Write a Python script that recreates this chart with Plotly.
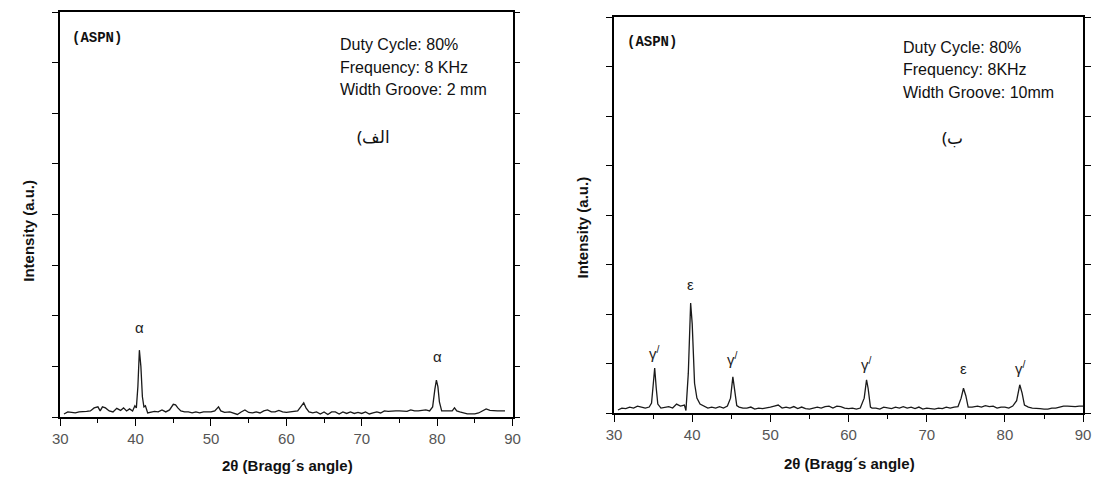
import plotly.graph_objects as go

# ---------------- data ----------------
# Left panel (a): width groove 2 mm
x_a = [30.5, 31, 31.5, 32, 32.5, 33, 33.5, 34, 34.5, 35, 35.3, 35.6, 36, 36.5, 37, 37.5, 38, 38.4, 38.8,
       39.2, 39.6, 39.9, 40.1, 40.3, 40.5, 40.7, 40.9, 41.1, 41.3, 41.6, 42, 42.5, 43, 43.5, 44, 44.5,
       45, 45.3, 45.6, 46, 46.5, 47, 47.5, 48, 48.5, 49, 49.5, 50, 50.5, 51, 51.3, 51.8, 52.5, 53, 53.5,
       54, 54.5, 55, 55.5, 56, 56.5, 57, 57.5, 58, 58.5, 59, 59.5, 60, 60.5, 61, 61.5, 62, 62.3, 62.6,
       63, 63.5, 64, 64.5, 65, 65.5, 66, 66.5, 67, 67.5, 68, 68.5, 69, 69.5, 70, 70.5, 71, 71.5, 72,
       72.5, 73, 73.5, 74, 74.5, 75, 75.5, 76, 76.5, 77, 77.5, 78, 78.5, 79, 79.4, 79.7, 79.9, 80.1,
       80.3, 80.6, 81, 81.5, 82, 82.3, 82.6, 83, 83.5, 84, 84.5, 85, 85.5, 86, 86.5, 87, 87.5, 88, 88.5, 89]
y_a = [0.06, 0.10, 0.09, 0.08, 0.10, 0.10, 0.11, 0.12, 0.18, 0.20, 0.12, 0.20, 0.18, 0.12, 0.10, 0.17, 0.13, 0.18, 0.12,
       0.16, 0.12, 0.22, 0.18, 0.60, 1.32, 1.00, 0.40, 0.20, 0.22, 0.08, 0.10, 0.11, 0.10, 0.14, 0.10, 0.14,
       0.25, 0.24, 0.18, 0.12, 0.10, 0.10, 0.08, 0.10, 0.08, 0.10, 0.10, 0.10, 0.12, 0.20, 0.12, 0.09, 0.10, 0.08, 0.05,
       0.10, 0.14, 0.09, 0.08, 0.10, 0.08, 0.12, 0.14, 0.10, 0.10, 0.13, 0.10, 0.09, 0.10, 0.10, 0.12, 0.22, 0.28, 0.18,
       0.10, 0.08, 0.10, 0.06, 0.10, 0.05, 0.10, 0.10, 0.06, 0.10, 0.07, 0.10, 0.07, 0.09, 0.07, 0.10, 0.06, 0.08, 0.10,
       0.08, 0.12, 0.11, 0.12, 0.12, 0.12, 0.12, 0.11, 0.14, 0.12, 0.12, 0.13, 0.14, 0.12, 0.20, 0.55, 0.73, 0.60,
       0.30, 0.12, 0.12, 0.12, 0.12, 0.18, 0.12, 0.10, 0.08, 0.06, 0.06, 0.06, 0.08, 0.12, 0.16, 0.13, 0.12, 0.12, 0.12, 0.12]

# Right panel (b): width groove 10 mm
x_b = [30.5, 31, 31.5, 32, 32.5, 33, 33.5, 34, 34.5, 34.8, 35, 35.2, 35.4, 35.6, 36, 36.5, 37, 37.5, 38, 38.5,
       39, 39.2, 39.5, 39.8, 40.0, 40.3, 40.6, 41, 41.5, 42, 42.5, 43, 43.5, 44, 44.5, 44.9, 45.2, 45.4, 45.7,
       46, 46.5, 47, 47.5, 48, 48.5, 49, 49.5, 50, 50.5, 51, 51.5, 52, 52.5, 53, 53.5, 54, 54.5, 55, 55.5,
       56, 56.5, 57, 57.5, 58, 58.5, 59, 59.5, 60, 60.5, 61, 61.5, 62, 62.3, 62.5, 62.8, 63, 63.5, 64, 64.5,
       65, 65.5, 66, 66.5, 67, 67.5, 68, 68.5, 69, 69.5, 70, 70.5, 71, 71.5, 72, 72.5, 73, 73.5, 74, 74.4,
       74.7, 75, 75.3, 75.8, 76.5, 77, 77.5, 78, 78.5, 79, 79.5, 80, 80.5, 81, 81.5, 81.9, 82.2, 82.5, 83,
       83.5, 84, 84.5, 85, 85.5, 86, 86.5, 87, 87.5, 88, 88.5, 89, 89.5, 90]
y_b = [0.06, 0.10, 0.09, 0.12, 0.10, 0.14, 0.12, 0.10, 0.12, 0.20, 0.55, 0.91, 0.50, 0.18, 0.10, 0.12, 0.13, 0.10, 0.18, 0.14,
       0.16, 0.05, 0.80, 2.22, 1.80, 0.60, 0.30, 0.18, 0.14, 0.10, 0.12, 0.10, 0.13, 0.10, 0.14, 0.30, 0.73, 0.45, 0.15,
       0.12, 0.10, 0.10, 0.12, 0.08, 0.10, 0.09, 0.10, 0.12, 0.14, 0.16, 0.10, 0.12, 0.10, 0.13, 0.09, 0.12, 0.09, 0.08, 0.10,
       0.12, 0.10, 0.13, 0.14, 0.10, 0.14, 0.13, 0.10, 0.09, 0.10, 0.08, 0.10, 0.30, 0.67, 0.50, 0.12, 0.10, 0.10, 0.08, 0.12,
       0.10, 0.09, 0.12, 0.10, 0.13, 0.10, 0.12, 0.09, 0.12, 0.08, 0.10, 0.09, 0.08, 0.10, 0.09, 0.12, 0.10, 0.12, 0.13, 0.30,
       0.50, 0.35, 0.12, 0.12, 0.14, 0.12, 0.15, 0.13, 0.14, 0.10, 0.12, 0.12, 0.10, 0.14, 0.25, 0.57, 0.40, 0.16, 0.12,
       0.10, 0.10, 0.09, 0.08, 0.08, 0.10, 0.10, 0.12, 0.14, 0.14, 0.13, 0.13, 0.14, 0.14]

# Peak labels
peak_lbl_a = ["α", "α"]
peak_x_a = [40.5, 80.0]
peak_y_a = [1.76, 1.19]

peak_lbl_b = ["γ<sup>/</sup>", "ε", "γ<sup>/</sup>", "γ<sup>/</sup>", "ε", "γ<sup>/</sup>"]
peak_x_b = [35.2, 39.8, 45.2, 62.3, 74.7, 82.0]
peak_y_b = [1.23, 2.59, 1.11, 1.00, 0.89, 0.91]

x_ticks = [30, 40, 50, 60, 70, 80, 90]
info_a = ["Duty Cycle: 80%", "Frequency: 8 KHz", "Width Groove: 2 mm"]
info_b = ["Duty Cycle: 80%", "Frequency: 8KHz", "Width Groove: 10mm"]
panel_a = "(الف"
panel_b = "(ب"
x_title = "2θ (Bragg´s angle)"
y_title = "Intensity (a.u.)"

# ---------------- layout helpers ----------------
W, H = 1097, 477
def px(x):
    return x / W
def py(y):
    return 1 - y / H

LINE = "#1a1a1a"
TICKFONT = dict(family="Liberation Sans, Arial, sans-serif", size=15, color="#555555")

fig = go.Figure()
fig.add_trace(go.Scatter(x=x_a, y=y_a, mode="lines", line=dict(color=LINE, width=1.3),
                         xaxis="x", yaxis="y", showlegend=False, hoverinfo="skip"))
fig.add_trace(go.Scatter(x=x_b, y=y_b, mode="lines", line=dict(color=LINE, width=1.3),
                         xaxis="x2", yaxis="y2", showlegend=False, hoverinfo="skip"))

def xaxis(domain, anchor):
    return dict(domain=domain, anchor=anchor, range=[30, 90], tickvals=x_ticks,
                ticks="outside", ticklen=7, tickwidth=1.3, tickcolor="black",
                minor=dict(dtick=5, tick0=30, ticks="outside", ticklen=4, tickcolor="black", tickwidth=1.2),
                showline=True, linecolor="black", linewidth=1.5, mirror=True,
                showgrid=False, zeroline=False, tickfont=TICKFONT, fixedrange=True)

def xaxis_top(domain, anchor, over):
    return dict(domain=domain, anchor=anchor, overlaying=over, side="top", range=[30, 90],
                tickvals=x_ticks, ticks="inside", ticklen=6, tickwidth=1.3, tickcolor="black",
                minor=dict(dtick=5, tick0=30, ticks="inside", ticklen=4, tickcolor="black", tickwidth=1.2),
                showticklabels=False, showline=False, showgrid=False, zeroline=False, fixedrange=True)

def yaxis(domain, anchor):
    return dict(domain=domain, anchor=anchor, range=[0, 8], dtick=1, tick0=0,
                ticks="outside", ticklen=6, tickwidth=1.2, tickcolor="black",
                showticklabels=False, showline=True, linecolor="black", linewidth=1.5,
                mirror="ticks", showgrid=False, zeroline=False, fixedrange=True)

fig.update_layout(
    width=W, height=H,
    margin=dict(l=0, r=0, t=0, b=0),
    paper_bgcolor="white", plot_bgcolor="white",
    xaxis=xaxis([px(53), px(512)], "y"),
    yaxis=yaxis([py(417), py(12)], "x"),
    xaxis2=xaxis([px(615), px(1091)], "y2"),
    yaxis2=yaxis([py(413), py(17)], "x2"),
    xaxis3=xaxis_top([px(53), px(512)], "y", "x"),
    xaxis4=xaxis_top([px(615), px(1091)], "y2", "x2"),
)

ann = []
GREEK = dict(family="Liberation Sans, Arial, sans-serif", size=15, color="#222222")
for t, x, y in zip(peak_lbl_a, peak_x_a, peak_y_a):
    ann.append(dict(text=t, x=x, y=y, xref="x", yref="y", showarrow=False, font=GREEK))
for t, x, y in zip(peak_lbl_b, peak_x_b, peak_y_b):
    ann.append(dict(text=t, x=x, y=y, xref="x2", yref="y2", showarrow=False, font=GREEK))

MONO = dict(family="Liberation Mono, Courier New, monospace", size=14, color="#111111")
ann.append(dict(text="<b>(ASPN)</b>", x=px(63), y=py(38), xref="paper", yref="paper",
                xanchor="left", yanchor="middle", showarrow=False, font=MONO))
ann.append(dict(text="<b>(ASPN)</b>", x=px(626), y=py(42), xref="paper", yref="paper",
                xanchor="left", yanchor="middle", showarrow=False, font=MONO))

INFO = dict(family="Liberation Sans, Arial, sans-serif", size=16, color="#111111")
for i, t in enumerate(info_a):
    ann.append(dict(text=t, x=px(335), y=py(45 + 22.5 * i), xref="paper", yref="paper",
                    xanchor="left", yanchor="middle", showarrow=False, font=INFO))
for i, t in enumerate(info_b):
    ann.append(dict(text=t, x=px(906), y=py(47 + 22.5 * i), xref="paper", yref="paper",
                    xanchor="left", yanchor="middle", showarrow=False, font=INFO))

AR = dict(family="Noto Sans, DejaVu Sans, sans-serif", size=17, color="#111111")
ann.append(dict(text=panel_a, x=px(371), y=py(136), xref="paper", yref="paper",
                xanchor="center", yanchor="middle", showarrow=False, font=AR))
ann.append(dict(text=panel_b, x=px(958), y=py(137), xref="paper", yref="paper",
                xanchor="center", yanchor="middle", showarrow=False, font=AR))

TITLE = dict(family="Liberation Sans, Arial, sans-serif", size=15, color="#111111")
ann.append(dict(text="<b>" + x_title + "</b>", x=px(284), y=py(465), xref="paper", yref="paper",
                xanchor="center", yanchor="middle", showarrow=False, font=TITLE))
ann.append(dict(text="<b>" + x_title + "</b>", x=px(854), y=py(463), xref="paper", yref="paper",
                xanchor="center", yanchor="middle", showarrow=False, font=TITLE))
ann.append(dict(text="<b>" + y_title + "</b>", x=px(20), y=py(231), xref="paper", yref="paper",
                xanchor="center", yanchor="middle", textangle=-90, showarrow=False, font=TITLE))
ann.append(dict(text="<b>" + y_title + "</b>", x=px(582), y=py(228), xref="paper", yref="paper",
                xanchor="center", yanchor="middle", textangle=-90, showarrow=False, font=TITLE))

fig.update_layout(annotations=ann)
fig.write_html("out.html", config={"displayModeBar": False},
               post_script="document.body.style.margin='0';document.body.style.overflow='hidden';")
